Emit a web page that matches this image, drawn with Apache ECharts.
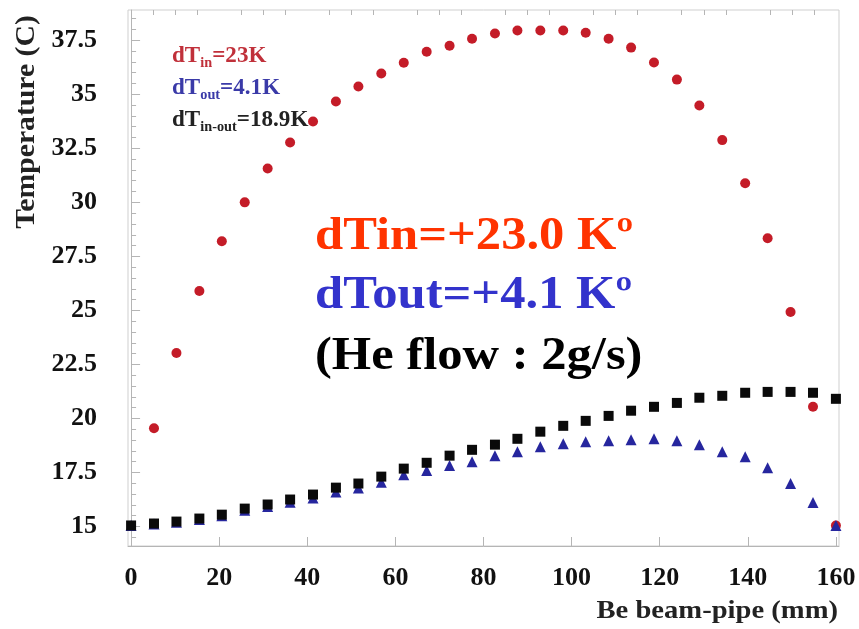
<!DOCTYPE html>
<html>
<head>
<meta charset="utf-8">
<script src="https://cdn.jsdelivr.net/npm/echarts@6/dist/echarts.min.js"></script>
<style>
  html, body { margin: 0; padding: 0; background: #fff; }
  #chart { width: 859px; height: 629px; }
</style>
</head>
<body>
<div id="chart"></div>
<script>
// positions along the Be beam-pipe (mm), 32 nodes
var positions = [0, 5.2, 10.3, 15.5, 20.6, 25.8, 31.0, 36.1, 41.3, 46.5, 51.6, 56.8, 61.9, 67.1, 72.3, 77.4,
  82.6, 87.7, 92.9, 98.1, 103.2, 108.4, 113.5, 118.7, 123.9, 129.0, 134.2, 139.4, 144.5, 149.7, 154.8, 160.0]
// red circles
var tempIn = [null, 19.55, 23.03, 25.90, 28.20, 30.00, 31.57, 32.77, 33.74, 34.67, 35.36, 35.96, 36.46, 36.97, 37.25, 37.57,
  37.81, 37.95, 37.95, 37.95, 37.85, 37.57, 37.16, 36.47, 35.68, 34.48, 32.88, 30.88, 28.34, 24.93, 20.54, 15.05]
// blue triangles
var tempOut = [15.05, 15.12, 15.20, 15.33, 15.50, 15.75, 15.93, 16.12, 16.32, 16.60, 16.78, 17.05, 17.40, 17.59, 17.82, 18.00,
  18.28, 18.46, 18.69, 18.83, 18.92, 18.97, 19.02, 19.06, 18.97, 18.79, 18.46, 18.23, 17.72, 16.99, 16.11, 15.05]
// black squares
var tempInOut = [15.05, 15.14, 15.23, 15.37, 15.55, 15.83, 16.02, 16.25, 16.48, 16.80, 16.99, 17.31, 17.68, 17.95, 18.28, 18.55,
  18.79, 19.06, 19.39, 19.66, 19.89, 20.12, 20.36, 20.54, 20.72, 20.96, 21.05, 21.19, 21.23, 21.23, 21.19, 20.91]

var xTicks = [0, 20, 40, 60, 80, 100, 120, 140, 160]
var xMinorTicks = [5, 10, 15, 25, 30, 35, 45, 50, 55, 65, 70, 75, 85, 90, 95, 105, 110, 115, 125, 130, 135, 145, 150, 155]
var yTicks = [15, 17.5, 20, 22.5, 25, 27.5, 30, 32.5, 35, 37.5]
var yMinorTicks = [14.5, 15.5, 16, 16.5, 17, 18, 18.5, 19, 19.5, 20.5, 21, 21.5, 22, 23, 23.5, 24, 24.5, 25.5, 26, 26.5, 27,
  28, 28.5, 29, 29.5, 30.5, 31, 31.5, 32, 33, 33.5, 34, 34.5, 35.5, 36, 36.5, 37, 38, 38.5]

var serif = 'Liberation Serif'
var axisGray = '#b5b5b5'

function pairs (ys) {
  return positions.map(function (x, i) {
    return ys[i] === null ? [x, '-'] : [x, ys[i]]
  })
}

// small legend line with a subscript
function note (y, main, sub, tail, color) {
  return {
    type: 'text', x: 172, y: y,
    style: {
      text: '{a|' + main + '}{s|' + sub + '}{a|' + tail + '}',
      rich: {
        a: { fill: color, fontFamily: serif, fontWeight: 'bold', fontSize: 21 },
        s: { fill: color, fontFamily: serif, fontWeight: 'bold', fontSize: 13, padding: [14, 0, 0, 0] }
      }
    },
    scaleX: 1.1, scaleY: 1.05
  }
}

function bigText (y, text, color) {
  return {
    type: 'text', x: 315, y: y, scaleX: 1.1,
    style: { text: text, fill: color, font: 'bold 46px "Liberation Serif"', verticalAlign: 'middle' }
  }
}

var chart = echarts.init(document.getElementById('chart'))

var baseX = { type: 'value', min: -0.7, max: 160.7, splitLine: { show: false } }
var baseY = { type: 'value', min: 14.1, max: 38.9, splitLine: { show: false } }

var option = {
  backgroundColor: '#fff',
  animation: false,
  grid: {
    left: 128, right: 20, top: 10, bottom: 83,
    show: true, borderColor: '#cfcfcf', borderWidth: 1
  },
  xAxis: [
    Object.assign({}, baseX, {
      axisLine: { lineStyle: { color: axisGray } },
      axisTick: { inside: true, length: 9, customValues: xTicks, lineStyle: { color: axisGray } },
      axisLabel: {
        customValues: xTicks, margin: 19, color: '#111',
        fontFamily: serif, fontWeight: 'bold', fontSize: 26
      }
    }),
    Object.assign({}, baseX, {
      axisLine: { show: false },
      axisTick: { inside: true, length: 5, customValues: xMinorTicks, lineStyle: { color: axisGray } },
      axisLabel: { show: false }
    })
  ],
  yAxis: [
    Object.assign({}, baseY, {
      axisLine: { lineStyle: { color: axisGray } },
      axisTick: { inside: true, length: 9, customValues: yTicks, lineStyle: { color: axisGray } },
      axisLabel: {
        customValues: yTicks, margin: 31, color: '#111',
        fontFamily: serif, fontWeight: 'bold', fontSize: 26
      }
    }),
    Object.assign({}, baseY, {
      position: 'left',
      axisLine: { show: false },
      axisTick: { inside: true, length: 5, customValues: yMinorTicks, lineStyle: { color: axisGray } },
      axisLabel: { show: false }
    })
  ],
  graphic: [
    {
      type: 'text', x: 27, y: 122, rotation: Math.PI / 2, scaleX: 1.1,
      style: { text: 'Temperature (C)', fill: '#222', font: 'bold 27px "Liberation Serif"', align: 'center', verticalAlign: 'middle' }
    },
    {
      type: 'text', x: 838, y: 611, scaleX: 1.1,
      style: { text: 'Be beam-pipe (mm)', fill: '#222', font: 'bold 26px "Liberation Serif"', align: 'right', verticalAlign: 'middle' }
    },
    note(42, 'dT', 'in', '=23K', '#c0303a'),
    note(74, 'dT', 'out', '=4.1K', '#3a3aa8'),
    note(106, 'dT', 'in-out', '=18.9K', '#222'),
    bigText(237, 'dTin=+23.0 Kº', '#ff3300'),
    bigText(296, 'dTout=+4.1 Kº', '#3333cc'),
    bigText(357, '(He flow : 2g/s)', '#000')
  ],
  series: [
    {
      name: 'T in', type: 'scatter', symbol: 'circle', symbolSize: 10,
      itemStyle: { color: '#c41c28', opacity: 1 }, data: pairs(tempIn)
    },
    {
      name: 'T out', type: 'scatter', symbol: 'triangle', symbolSize: 11,
      itemStyle: { color: '#26269e', opacity: 1 }, data: pairs(tempOut)
    },
    {
      name: 'T in-out', type: 'scatter', symbol: 'rect', symbolSize: 10,
      itemStyle: { color: '#0a0a0a', opacity: 1 }, data: pairs(tempInOut)
    }
  ]
}

chart.setOption(option)
</script>
</body>
</html>
